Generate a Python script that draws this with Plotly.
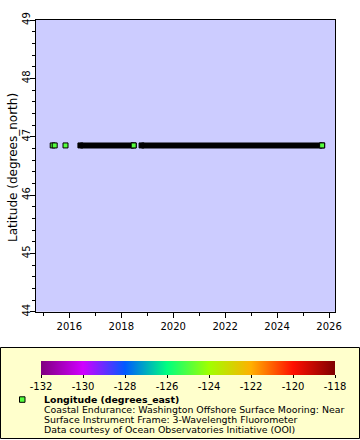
import plotly.graph_objects as go

# ---- data ----
latitude = 46.85
longitude = -124.95
isolated_times = ["2015-05-12", "2015-06-09", "2015-11-08"]
segment_starts = ["2016-06-05", "2018-10-13"]
segment_ends = ["2018-06-24", "2025-09-26"]

x_range = ["2014-09-19", "2026-03-26"]
y_range = [44, 49]
cbar_min, cbar_max = -132, -118
cbar_ticks = [-132, -130, -128, -126, -124, -122, -120, -118]
cbar_ticktext = [str(v) for v in cbar_ticks]

y_title = "Latitude (degrees_north)"
legend_title = "Longitude (degrees_east)"
legend_lines = [
    "Coastal Endurance: Washington Offshore Surface Mooring: Near",
    "Surface Instrument Frame: 3-Wavelength Fluorometer",
    "Data courtesy of Ocean Observatories Initiative (OOI)",
]

rainbow = [
    [0 / 7, "rgb(128,0,128)"],
    [1 / 7, "rgb(208,0,255)"],
    [2 / 7, "rgb(0,90,255)"],
    [3 / 7, "rgb(0,255,128)"],
    [4 / 7, "rgb(160,255,0)"],
    [5 / 7, "rgb(255,176,0)"],
    [6 / 7, "rgb(255,16,0)"],
    [7 / 7, "rgb(128,0,0)"],
]

W, H = 360, 440
FONT = "DejaVu Sans"


def px_x(p):
    return p / W


def px_y(p):
    return 1 - p / H


def scale_color(v):
    t = (v - cbar_min) / (cbar_max - cbar_min)
    for (t0, c0), (t1, c1) in zip(rainbow[:-1], rainbow[1:]):
        if t0 <= t <= t1:
            a = [int(s) for s in c0[4:-1].split(",")]
            b = [int(s) for s in c1[4:-1].split(",")]
            f = (t - t0) / (t1 - t0)
            return "rgb(%d,%d,%d)" % tuple(round(a[i] + f * (b[i] - a[i])) for i in range(3))
    return rainbow[-1][1]


# dense segments (black, overplotted marker borders)
seg_x, seg_y = [], []
for s, e in zip(segment_starts, segment_ends):
    seg_x += [s, e, None]
    seg_y += [latitude, latitude, None]

visible_times = isolated_times + segment_ends

fig = go.Figure()
fig.add_trace(go.Scatter(
    x=seg_x, y=seg_y, mode="lines+markers",
    line=dict(color="black", width=6),
    marker=dict(symbol="square", size=5, color="black", line=dict(color="black", width=1)),
    showlegend=False, hoverinfo="skip",
))
fig.add_trace(go.Scatter(
    x=visible_times, y=[latitude] * len(visible_times), mode="markers",
    marker=dict(
        symbol="square", size=5,
        color=[longitude] * len(visible_times),
        colorscale=rainbow, cmin=cbar_min, cmax=cbar_max,
        line=dict(color="black", width=1),
        showscale=True,
        colorbar=dict(
            orientation="h",
            x=px_x((41 + 335) / 2), xanchor="center",
            y=px_y(361), yanchor="top",
            len=(335 - 41) / W, lenmode="fraction",
            thickness=14, thicknessmode="pixels",
            xpad=0, ypad=0, outlinewidth=0,
            tickvals=cbar_ticks, ticktext=cbar_ticktext,
            ticks="outside", ticklen=3, tickcolor="black",
            tickfont=dict(family=FONT, size=10, color="black"),
        ),
    ),
    showlegend=False,
))

# legend box
fig.add_shape(type="rect", xref="paper", yref="paper",
              x0=px_x(0.5), x1=px_x(359.5), y0=px_y(438.5), y1=px_y(347.5),
              line=dict(color="black", width=1), fillcolor="#ffffcc", layer="below")
# legend symbol
fig.add_shape(type="rect", xref="paper", yref="paper",
              x0=px_x(19.5), x1=px_x(25), y0=px_y(402.3), y1=px_y(396.8),
              line=dict(color="black", width=1), fillcolor=scale_color(longitude))

ann = []
ys = [399, 409, 419, 429]
texts = ["<b>" + legend_title + "</b>"] + legend_lines
for t, yy in zip(texts, ys):
    ann.append(dict(x=px_x(41.5), y=px_y(yy), xref="paper", yref="paper",
                    xanchor="left", yanchor="middle", showarrow=False, text=t,
                    font=dict(family=FONT, size=9.4, color="black")))
# y-axis title
ann.append(dict(x=px_x(13), y=px_y(168), xref="paper", yref="paper",
                xanchor="center", yanchor="middle", showarrow=False,
                text=y_title, textangle=-90,
                font=dict(family=FONT, size=12, color="black")))

fig.update_layout(
    width=W, height=H,
    margin=dict(l=0, r=0, t=0, b=0),
    paper_bgcolor="white", plot_bgcolor="#ccccff",
    font=dict(family=FONT, size=10, color="black"),
    annotations=ann,
    xaxis=dict(
        domain=[px_x(36), px_x(335)], range=x_range, type="date",
        tick0="2016-01-01", dtick="M24", tickformat="%Y",
        ticks="outside", ticklen=5, tickcolor="black", tickwidth=1,
        minor=dict(tick0="2015-01-01", dtick="M12", ticks="outside", ticklen=3, tickcolor="black"),
        showline=True, linecolor="black", linewidth=1, mirror=True,
        showgrid=False, zeroline=False, automargin=False,
        tickfont=dict(family=FONT, size=10, color="black"),
    ),
    yaxis=dict(
        domain=[px_y(311.7), px_y(20)], range=y_range,
        dtick=1, tickangle=-90, ticklabelstandoff=-4,
        ticks="outside", ticklen=5, tickcolor="black", tickwidth=1,
        minor=dict(dtick=0.2, ticks="outside", ticklen=3, tickcolor="black"),
        showline=True, linecolor="black", linewidth=1, mirror=True,
        showgrid=False, zeroline=False, automargin=False,
        tickfont=dict(family=FONT, size=10, color="black"),
    ),
)

fig.write_html("out.html", config={"displayModeBar": False},
               post_script="document.body.style.margin='0';document.body.style.padding='0';")
